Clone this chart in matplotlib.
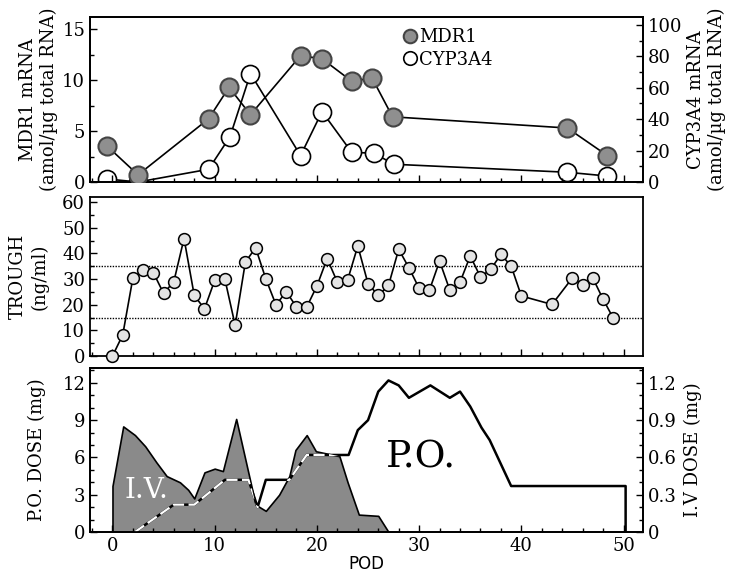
import matplotlib
matplotlib.use("Agg")
import matplotlib.pyplot as plt
from matplotlib.ticker import MultipleLocator

plt.rcParams["font.family"] = "DejaVu Serif"

# top panel: mRNA levels
mrna_days = [-0.5, 2.5, 9.4, 11.4, 13.5, 18.4, 20.5, 23.4, 25.4, 27.4, 44.5, 48.4]
mdr1 = [3.5, 0.7, 6.2, 9.3, 6.6, 12.4, 12.1, 9.9, 10.2, 6.4, 5.3, 2.6]
cyp_days = [-0.5, 2.5, 9.4, 11.5, 13.5, 18.4, 20.5, 23.4, 25.6, 27.5, 44.5, 48.4]
cyp3a4 = [1.9, 0.0, 8.1, 28.9, 69, 16.8, 44.8, 18.9, 18.3, 11.3, 6.2, 3.8]

# middle panel: trough levels
trough_days = list(range(0, 41)) + [43, 45, 46, 47, 48, 49]
trough = [0, 8.2, 30.5, 33.4, 32.5, 24.4, 29.0, 45.8, 23.6, 18.4,
          29.5, 29.9, 12.0, 36.6, 42.2, 30.1, 19.9, 25.1, 19.1, 19.1,
          27.3, 38.0, 28.8, 29.6, 42.9, 28.2, 23.6, 27.5, 41.6, 34.4,
          26.4, 25.6, 37.0, 25.7, 28.8, 39.0, 30.8, 33.8, 39.6, 35.1,
          23.4, 20.1, 30.5, 27.7, 30.3, 22.1, 14.7]
target_range = [15, 35]

# bottom panel: doses
iv_days = [0, 0, 1.05, 2.2, 3.2, 4.3, 5.3, 6.6, 7.4, 8.0, 9.0, 10.0, 10.8, 12.1,
           14.0, 15.0, 16.3, 17.3, 17.9, 19.0, 19.9, 22.2, 23.0, 24.1, 26.0, 27.0]
iv_dose = [0, 0.37, 0.85, 0.78, 0.69, 0.56, 0.45, 0.40, 0.34, 0.27, 0.48, 0.51,
           0.49, 0.91, 0.22, 0.17, 0.30, 0.45, 0.66, 0.78, 0.65, 0.61, 0.40,
           0.14, 0.13, 0]
po_days = [2.2, 6.0, 8.0, 11.0, 13.3, 14.2, 15.0, 17.3, 19.0, 23.1, 24.0, 25.0,
           26.0, 27.0, 28.0, 29.0, 31.1, 33.0, 34.0, 35.0, 36.1, 36.9, 39.0,
           50.2, 50.2]
po_dose = [0, 2.2, 2.2, 4.2, 4.2, 2.0, 4.2, 4.2, 6.2, 6.2, 8.2, 9.0, 11.3, 12.2,
           11.8, 10.8, 11.8, 10.8, 11.3, 10.1, 8.4, 7.4, 3.7, 3.7, 0]

XLIM = (-2.2, 51.9)
W, H = 734, 572
L, R = 90 / W, 643 / W
FS = 13


def panel(top, bottom):
    return fig.add_axes([L, 1 - bottom / H, R - L, (bottom - top) / H])


def style(ax, labels=True):
    ax.set_xlim(*XLIM)
    ax.xaxis.set_major_locator(MultipleLocator(10))
    ax.xaxis.set_minor_locator(MultipleLocator(2))
    ax.tick_params(which="both", direction="in", labelsize=FS)
    ax.tick_params(which="major", length=5, width=1)
    ax.tick_params(which="minor", length=3, width=1)
    if not labels:
        ax.tick_params(axis="x", labelbottom=False)
    for s in ax.spines.values():
        s.set_linewidth(1.3)


fig = plt.figure(figsize=(W / 100, H / 100), dpi=100)

# ---- top
ax1 = panel(17, 182)
ax1r = ax1.twinx()
style(ax1, labels=False)
style(ax1r, labels=False)
ax1.plot(mrna_days, mdr1, "-o", color="black", lw=1.2, ms=13,
         mfc="#8f8f8f", mec="#444444", mew=1.5, zorder=3, label="MDR1")
ax1r.plot(cyp_days, cyp3a4, "-o", color="black", lw=1.2, ms=13,
          mfc="white", mec="black", mew=1.2, label="CYP3A4")
ax1.set_zorder(ax1r.get_zorder() + 1)
ax1.patch.set_visible(False)
ax1.set_ylim(0, 16.2)
ax1r.set_ylim(0, 105)
ax1.yaxis.set_major_locator(MultipleLocator(5))
ax1.yaxis.set_minor_locator(MultipleLocator(2.5))
ax1r.yaxis.set_major_locator(MultipleLocator(20))
ax1r.yaxis.set_minor_locator(MultipleLocator(10))
ax1.set_ylabel("MDR1 mRNA\n(amol/µg total RNA)", fontsize=FS, labelpad=3)
ax1r.set_ylabel("CYP3A4 mRNA\n(amol/µg total RNA)", fontsize=FS, labelpad=3)
h1, l1 = ax1.get_legend_handles_labels()
h2, l2 = ax1r.get_legend_handles_labels()
leg = ax1.legend(h1 + h2, l1 + l2, loc="upper left", bbox_to_anchor=(0.54, 1.03),
                 frameon=False, fontsize=FS, handlelength=0.6, handletextpad=0.2,
                 labelspacing=0.25, markerscale=0.75)
for h in leg.legend_handles:
    h.set_linestyle("none")

# ---- middle
ax2 = panel(197, 356)
style(ax2, labels=False)
ax2.plot(trough_days, trough, "-o", color="black", lw=1.2, ms=8.5,
         mfc="#e4e4e4", mec="black", mew=1.1, clip_on=False, zorder=3)
for v in target_range:
    ax2.axhline(v, color="black", lw=1, ls=(0, (1, 1)))
ax2.set_ylim(0, 62)
ax2.yaxis.set_major_locator(MultipleLocator(10))
ax2.yaxis.set_minor_locator(MultipleLocator(5))
ax2.set_ylabel("TROUGH\n(ng/ml)", fontsize=FS, labelpad=10)

# ---- bottom
ax3 = panel(368, 532)
ax3r = ax3.twinx()
style(ax3)
style(ax3r)
fill = ax3r.fill_between(iv_days, iv_dose, color="#8a8a8a", edgecolor="black", lw=1.2)
ax3.plot(po_days, po_dose, color="black", lw=1.8)
white = ax3.plot(po_days, po_dose, color="white", lw=1.6, ls=(0, (5, 2)))[0]
white.set_clip_path(fill.get_paths()[0], ax3r.transData)
ax3.set_zorder(ax3r.get_zorder() + 1)
ax3.patch.set_visible(False)
ax3.set_ylim(0, 13.2)
ax3r.set_ylim(0, 1.32)
ax3.yaxis.set_major_locator(MultipleLocator(3))
ax3.yaxis.set_minor_locator(MultipleLocator(1))
ax3r.yaxis.set_major_locator(MultipleLocator(0.3))
ax3r.yaxis.set_minor_locator(MultipleLocator(0.1))
ax3r.yaxis.set_major_formatter(lambda v, p: "0" if v == 0 else f"{v:.1f}")
ax3.set_ylabel("P.O. DOSE (mg)", fontsize=FS, labelpad=12)
ax3r.set_ylabel("I.V DOSE (mg)", fontsize=FS, labelpad=5)
ax3.set_xlabel("POD", fontsize=12, family="DejaVu Sans", labelpad=0)
ax3.text(3.3, 3.3, "I.V.", color="white", fontsize=20, ha="center", va="center")
ax3.text(30.2, 6.0, "P.O.", color="black", fontsize=27, ha="center", va="center")

fig.savefig("out.png", dpi=100, facecolor="white")
